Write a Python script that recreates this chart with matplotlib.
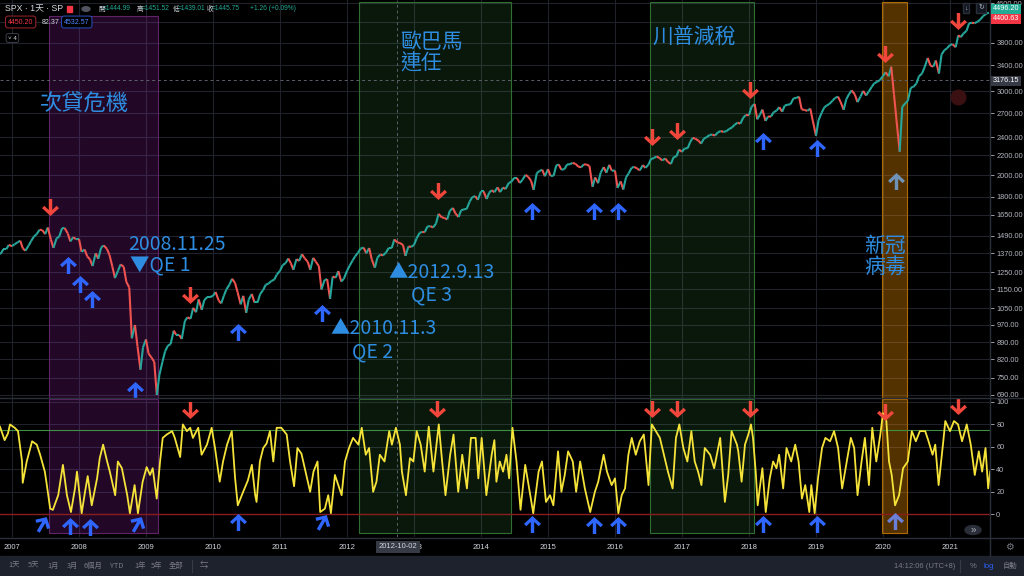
import numpy as np
import pandas as pd
import matplotlib
matplotlib.use('Agg')
import matplotlib.pyplot as plt
import matplotlib.ticker as mticker
from matplotlib.collections import LineCollection
from matplotlib.path import Path
from matplotlib.markers import MarkerStyle
from matplotlib.transforms import Affine2D
from matplotlib.lines import Line2D
from matplotlib.patches import Rectangle, Circle

plt.rcParams['font.family'] = ['Liberation Sans', 'Noto Sans CJK TC', 'DejaVu Sans']
CJK = ['Noto Sans CJK TC', 'DejaVu Sans']

# ---- SPX, 1st and 15th of each month ----
spx_2006 = [1365, 1367, 1397, 1397, 1427]
spx_2007 = [1418, 1431, 1445, 1456, 1403, 1387, 1421, 1453, 1486, 1502, 1536, 1532,
            1503, 1552, 1465, 1406, 1473, 1484, 1547, 1548, 1508, 1451, 1481, 1467]
spx_2008 = [1468, 1380, 1395, 1349, 1330, 1288, 1370, 1334, 1409, 1423, 1400, 1360,
            1284, 1215, 1260, 1298, 1283, 1193, 1161, 908, 968, 873, 780, 869]
spx_2009 = [903, 843, 826, 810, 690, 760, 811, 852, 877, 882, 942, 923,
            923, 905, 987, 1005, 998, 1052, 1030, 1096, 1042, 1093, 1108, 1108]
spx_2010 = [1115, 1136, 1090, 1075, 1115, 1150, 1178, 1211, 1187, 1135, 1070, 1115,
            1027, 1096, 1125, 1080, 1080, 1125, 1146, 1176, 1184, 1198, 1206, 1236]
spx_2011 = [1258, 1293, 1307, 1336, 1306, 1265, 1332, 1320, 1364, 1338, 1315, 1265,
            1340, 1316, 1287, 1150, 1204, 1209, 1099, 1224, 1218, 1257, 1195, 1211]
spx_2012 = [1258, 1289, 1324, 1351, 1374, 1402, 1408, 1370, 1405, 1330, 1278, 1342,
            1362, 1356, 1375, 1405, 1406, 1465, 1444, 1440, 1427, 1353, 1416, 1413]
spx_2013 = [1426, 1472, 1513, 1519, 1518, 1560, 1562, 1552, 1582, 1658, 1630, 1626,
            1614, 1682, 1706, 1661, 1633, 1687, 1695, 1698, 1761, 1798, 1806, 1775]
spx_2014 = [1848, 1848, 1782, 1838, 1859, 1841, 1885, 1842, 1883, 1870, 1924, 1936,
            1973, 1973, 1925, 1955, 2003, 1984, 1946, 1862, 2018, 2039, 2053, 1989]
spx_2015 = [2058, 1992, 1995, 2096, 2105, 2053, 2059, 2106, 2108, 2122, 2111, 2084,
            2077, 2107, 2104, 2091, 1890, 1978, 1923, 2023, 2079, 2023, 2102, 2043]
spx_2016 = [2044, 1880, 1940, 1865, 1978, 2016, 2073, 2081, 2065, 2046, 2099, 2071,
            2103, 2162, 2173, 2190, 2170, 2147, 2168, 2133, 2111, 2180, 2191, 2262]
spx_2017 = [2239, 2275, 2279, 2349, 2396, 2385, 2363, 2329, 2388, 2402, 2430, 2433,
            2423, 2459, 2476, 2464, 2476, 2500, 2519, 2553, 2579, 2564, 2642, 2675]
spx_2018 = [2674, 2786, 2822, 2620, 2678, 2747, 2600, 2656, 2655, 2711, 2734, 2779,
            2718, 2801, 2813, 2818, 2901, 2905, 2924, 2750, 2740, 2730, 2760, 2600]
spx_2019 = [2420, 2610, 2706, 2775, 2803, 2822, 2867, 2905, 2924, 2850, 2744, 2886,
            2964, 3014, 2953, 2847, 2926, 3007, 2940, 2995, 3066, 3120, 3141, 3168]
spx_2020 = [3231, 3289, 3226, 3380, 2954, 2600, 2240, 2783, 2830, 2863, 3055, 3066,
            3115, 3226, 3271, 3372, 3526, 3401, 3380, 3483, 3270, 3585, 3662, 3694]
spx_2021 = [3756, 3768, 3714, 3934, 3901, 3968, 4020, 4170, 4181, 4173, 4204, 4246,
            4319, 4360, 4395]

# ---- oscillator (year, value) ----
osc_a = [(2006.82, 78), (2006.89, 66), (2006.94, 72), (2006.97, 80), (2007.04, 77), (2007.09, 74),
         (2007.15, 47), (2007.16, 28), (2007.22, 47), (2007.30, 65), (2007.37, 62), (2007.42, 53),
         (2007.49, 38), (2007.52, 26), (2007.57, 5), (2007.61, 4), (2007.69, 17), (2007.76, 44),
         (2007.82, 17), (2007.88, 2), (2007.94, 23), (2007.97, 38), (2008.04, 1), (2008.09, 20),
         (2008.13, 34), (2008.19, 8), (2008.27, 32), (2008.31, 50), (2008.36, 62), (2008.42, 47),
         (2008.46, 38), (2008.54, 17), (2008.58, 47), (2008.64, 41), (2008.72, 17), (2008.76, 1),
         (2008.83, 26), (2008.88, 1), (2008.95, 29), (2009.01, 42), (2009.06, 35), (2009.10, 41),
         (2009.16, 14), (2009.21, 47), (2009.25, 68), (2009.31, 71), (2009.39, 74), (2009.43, 68),
         (2009.51, 51), (2009.55, 80), (2009.61, 74), (2009.66, 77), (2009.70, 68), (2009.78, 77),
         (2009.83, 53), (2009.91, 62), (2009.98, 77), (2010.03, 59), (2010.10, 29), (2010.15, 47),
         (2010.21, 62), (2010.28, 74), (2010.33, 32), (2010.37, 8), (2010.45, 20), (2010.52, 30)]
osc_b = [(2010.58, 44), (2010.63, 17), (2010.65, 11), (2010.70, 47), (2010.75, 59), (2010.80, 63),
         (2010.85, 74), (2010.90, 47), (2010.95, 77), (2011.02, 77), (2011.10, 71), (2011.15, 47),
         (2011.21, 25), (2011.26, 59), (2011.32, 54), (2011.37, 41), (2011.45, 20), (2011.50, 38),
         (2011.56, 47), (2011.60, 2), (2011.67, 5), (2011.72, 17), (2011.76, 1), (2011.82, 35),
         (2011.87, 26), (2011.92, 17), (2011.97, 47), (2012.03, 59), (2012.09, 68), (2012.17, 62),
         (2012.22, 77), (2012.28, 53), (2012.33, 59), (2012.39, 20), (2012.44, 29), (2012.49, 53),
         (2012.56, 47), (2012.63, 74), (2012.67, 62), (2012.73, 77), (2012.79, 62), (2012.82, 38),
         (2012.88, 17), (2012.94, 50), (2012.99, 47), (2013.04, 74), (2013.10, 62), (2013.16, 38),
         (2013.22, 78), (2013.29, 38), (2013.37, 80), (2013.42, 47), (2013.47, 17), (2013.54, 53),
         (2013.59, 71), (2013.66, 20), (2013.72, 53), (2013.79, 23), (2013.85, 68), (2013.92, 68),
         (2013.96, 32), (2014.01, 68), (2014.08, 17), (2014.16, 53), (2014.20, 66)]
osc_c = [(2014.23, 29), (2014.28, 47), (2014.33, 38), (2014.38, 53), (2014.42, 32), (2014.47, 77),
         (2014.53, 47), (2014.59, 4), (2014.66, 44), (2014.71, 26), (2014.78, 1), (2014.86, 38),
         (2014.91, 47), (2014.97, 11), (2015.03, 17), (2015.08, 8), (2015.15, 56), (2015.20, 20),
         (2015.25, 35), (2015.30, 56), (2015.37, 47), (2015.42, 20), (2015.48, 47), (2015.55, 23),
         (2015.63, 2), (2015.70, 20), (2015.75, 29), (2015.83, 53), (2015.88, 38), (2015.95, 26),
         (2016.00, 32), (2016.05, 1), (2016.10, 17), (2016.15, 23), (2016.20, 53), (2016.25, 68),
         (2016.31, 53), (2016.37, 65), (2016.43, 71), (2016.50, 26), (2016.55, 80), (2016.61, 74),
         (2016.67, 68), (2016.73, 53), (2016.79, 38), (2016.86, 23), (2016.91, 68), (2016.96, 80),
         (2017.02, 59), (2017.08, 47), (2017.14, 74), (2017.19, 47), (2017.24, 38), (2017.29, 26),
         (2017.34, 59), (2017.42, 53), (2017.48, 41), (2017.57, 68), (2017.64, 11), (2017.69, 35),
         (2017.74, 74), (2017.82, 62)]
osc_d = [(2017.84, 56), (2017.89, 29), (2017.94, 62), (2017.99, 71), (2018.03, 80), (2018.06, 68),
         (2018.10, 38), (2018.13, 8), (2018.16, 23), (2018.20, 41), (2018.25, 2), (2018.31, 32),
         (2018.36, 47), (2018.41, 41), (2018.45, 53), (2018.51, 23), (2018.56, 59), (2018.63, 47),
         (2018.69, 62), (2018.74, 47), (2018.79, 14), (2018.84, 26), (2018.90, 2), (2018.93, 26),
         (2018.98, 1), (2019.03, 32), (2019.09, 59), (2019.14, 68), (2019.21, 65), (2019.27, 74),
         (2019.33, 59), (2019.39, 23), (2019.46, 47), (2019.52, 68), (2019.57, 59), (2019.62, 17),
         (2019.68, 47), (2019.73, 68), (2019.79, 26), (2019.84, 77), (2019.90, 47), (2019.96, 71),
         (2020.00, 90), (2020.05, 83), (2020.09, 47), (2020.13, 35), (2020.18, 8), (2020.24, 17),
         (2020.30, 41), (2020.37, 47), (2020.43, 74), (2020.49, 65), (2020.55, 74), (2020.63, 74),
         (2020.68, 65), (2020.74, 53), (2020.78, 62), (2020.83, 26), (2020.90, 65), (2020.93, 83),
         (2021.00, 74), (2021.06, 83), (2021.12, 80), (2021.18, 65), (2021.25, 80), (2021.31, 62),
         (2021.37, 35), (2021.43, 56), (2021.48, 38), (2021.53, 59), (2021.57, 23), (2021.60, 38)]

# shaded periods (start, end)
zone_start = [2007.55, 2012.18, 2016.52, 2019.99]
zone_end = [2009.18, 2014.45, 2018.07, 2020.36]

# arrows: (year, price) / (year, osc value)
sell_price = [(2007.57, 1715), (2009.66, 1120), (2013.36, 1853), (2016.55, 2407),
              (2016.92, 2478), (2018.01, 3021), (2020.03, 3595), (2021.12, 4218)]
buy_price = [(2007.83, 1296), (2008.01, 1182), (2008.19, 1099), (2008.83, 706), (2010.37, 935),
             (2011.63, 1026), (2014.76, 1682), (2015.69, 1682), (2016.04, 1682),
             (2018.21, 2360), (2019.01, 2281)]
buy_price_covid = [(2020.19, 1944)]
sell_osc = [(2009.66, 92.8), (2013.34, 93.7), (2016.55, 93.7), (2016.92, 93.7),
            (2018.01, 93.7), (2020.03, 91), (2021.12, 96.4)]
buy_osc = [(2007.87, -10.4), (2008.16, -11.3), (2010.37, -6.9), (2014.76, -8.5),
           (2015.69, -9.4), (2016.04, -9.4), (2018.21, -8.5), (2019.01, -8.5)]
buy_osc_tilt = [(2007.45, -8.5), (2008.86, -8.5), (2011.63, -6.9)]
buy_osc_covid = [(2020.18, -5.9)]

price_ticks = [4600, 4200, 3800, 3400, 3000, 2700, 2400, 2200, 2000, 1800, 1650, 1490,
               1370, 1250, 1150, 1050, 970, 890, 820, 750, 690]
hidden_ticks = [4200]   # covered by the last-price badges
osc_ticks = [0, 20, 40, 60, 80, 100]
years = list(range(2007, 2022))

# ---------------------------------------------------------------
W, H = 1024, 576
def X(px):
    return px / W
def Y(py):
    return 1 - py / H

BG = '#000000'
GRID = '#1f222b'
SEP = '#2a2e39'
TXT = '#b2b5be'
NOTE = '#2e8de0'
RED = '#f0463c'
BLUE = '#2f66ff'

fig = plt.figure(figsize=(10.24, 5.76), dpi=100, facecolor=BG)
ax_p = fig.add_axes([0, Y(398), 990 / W, 398 / H], facecolor=BG)
ax_o = fig.add_axes([0, Y(537), 990 / W, 139 / H], facecolor=BG)

x0, x1 = 2006.821, 2006.821 + 990 / 67
for ax in (ax_p, ax_o):
    ax.set_xlim(x0, x1)
    for s in ax.spines.values():
        s.set_visible(False)
    ax.set_xticks(years)
    ax.grid(True, color=GRID, lw=0.8)
    ax.set_axisbelow(True)
    ax.yaxis.tick_right()
    ax.tick_params(axis='y', colors=TXT, labelsize=5.3, length=3, width=0.6, pad=1.5)
    ax.tick_params(axis='x', length=0)

# price pane
ax_p.set_yscale('log')
ax_p.set_ylim(680, 4668)
ax_p.set_yticks(price_ticks)
ax_p.yaxis.set_minor_locator(mticker.NullLocator())
ax_p.yaxis.set_major_formatter(mticker.FuncFormatter(
    lambda v, p: '' if round(v) in hidden_ticks else '%.2f' % v))
ax_p.set_xticklabels([])

dates = pd.date_range('2006-10-15', '2021-08-01', freq='SMS')
spx = (spx_2006 + spx_2007 + spx_2008 + spx_2009 + spx_2010 + spx_2011 + spx_2012 +
       spx_2013 + spx_2014 + spx_2015 + spx_2016 + spx_2017 + spx_2018 + spx_2019 +
       spx_2020 + spx_2021)
n = min(len(dates), len(spx))
t = (dates.year + (dates.dayofyear - 1) / 365.25)[:n].to_numpy()
p = np.array(spx[:n], dtype=float)
pts = np.column_stack([t, p])
segs = np.stack([pts[:-1], pts[1:]], axis=1)
cols = np.where(np.diff(p) >= 0, '#26a69a', '#ef5350')
ax_p.add_collection(LineCollection(segs, colors=cols, linewidths=1.5, zorder=3))

zone_face = ['#9c27b0', '#4caf50', '#4caf50', '#ff9800']
zone_alpha = [0.22, 0.14, 0.14, 0.33]
zone_edge = ['#5e2466', '#2f6e30', '#2f6e30', '#b06a00']
zone_top = [0.96, 0.995, 0.995, 0.995]
for i in range(len(zone_start)):
    ax_p.axvspan(zone_start[i], zone_end[i], ymin=0, ymax=zone_top[i],
                 facecolor=zone_face[i], alpha=zone_alpha[i], lw=0, zorder=1)
    ax_p.axvspan(zone_start[i], zone_end[i], ymin=0, ymax=zone_top[i],
                 facecolor='none', edgecolor=zone_edge[i], lw=0.8, zorder=1)
    ax_o.axvspan(zone_start[i], zone_end[i], ymin=0.03, ymax=0.995,
                 facecolor=zone_face[i], alpha=zone_alpha[i], lw=0, zorder=1)
    ax_o.axvspan(zone_start[i], zone_end[i], ymin=0.03, ymax=0.995,
                 facecolor='none', edgecolor=zone_edge[i], lw=0.8, zorder=1)

# crosshair lines
ax_p.axhline(3176.15, color='#5d606b', lw=0.7, ls=(0, (3, 3)), zorder=2)
for ax in (ax_p, ax_o):
    ax.axvline(2012.75, color='#5d606b', lw=0.7, ls=(0, (3, 3)), zorder=2)

ax_p.scatter([2021.12], [2919], s=110, color='#3a1013', zorder=2)

# oscillator pane
osc = osc_a + osc_b + osc_c + osc_d
ax_o.set_ylim(-20.2, 103.5)
ax_o.set_yticks(osc_ticks)
ax_o.yaxis.set_major_formatter(mticker.FuncFormatter(lambda v, p: '%d' % v))
ax_o.axhline(75, color='#3f8f43', lw=0.8, zorder=2)
ax_o.axhline(0, color='#8a1c1c', lw=1.0, zorder=2)
ax_o.plot([a for a, b in osc], [b for a, b in osc], color='#f5e33a', lw=1.3, zorder=3)
ax_o.set_xticklabels([str(y) for y in years])
ax_o.tick_params(axis='x', colors='#d1d4dc', labelsize=5.5, pad=5)

# arrow markers
dv = [(-0.2, 1.0), (0.2, 1.0), (0.2, -0.3), (0.72, 0.2), (1.0, -0.08), (0.0, -1.0),
      (-1.0, -0.08), (-0.72, 0.2), (-0.2, -0.3), (-0.2, 1.0)]
down = Path(dv, closed=True)
up = Path([(a, -b) for a, b in dv], closed=True)
up_tilt = MarkerStyle(up, transform=Affine2D().rotate_deg(-30))

def arrows(ax, pts, marker, color):
    ax.scatter([a for a, b in pts], [b for a, b in pts], marker=marker, s=150,
               color=color, linewidths=0, zorder=5)

arrows(ax_p, sell_price, down, RED)
arrows(ax_p, buy_price, up, BLUE)
arrows(ax_p, buy_price_covid, up, '#6f93b8')
arrows(ax_o, sell_osc, down, RED)
arrows(ax_o, buy_osc, up, BLUE)
arrows(ax_o, buy_osc_tilt, up_tilt, BLUE)
arrows(ax_o, buy_osc_covid, up, '#6a80d8')

# annotations
notes = [(40, 104, '次貸危機', 16), (128, 244, '2008.11.25', 14), (130, 266, '▼QE 1', 14),
         (330, 329, '▲2010.11.3', 14), (352, 352, 'QE 2', 14),
         (388, 272, '▲2012.9.13', 14), (411, 295, 'QE 3', 14),
         (400, 42, '歐巴馬', 15), (400, 64, '連任', 15), (652, 37, '川普減稅', 15),
         (864, 246, '新冠', 15), (864, 268, '病毒', 15)]
for px, py, s, fs in notes:
    fig.text(X(px), Y(py), s, color=NOTE, fontsize=fs, family=CJK, ha='left', va='center', zorder=6)

# pane separators
for py in (398, 538):
    fig.add_artist(Line2D([0, 1], [Y(py), Y(py)], color=SEP, lw=1))
fig.add_artist(Line2D([X(990), X(990)], [Y(556), 1], color=SEP, lw=1))

# header
fig.text(X(5), Y(9), 'SPX · 1天 · SP', color='#d1d4dc', fontsize=6.3, va='center')
fig.add_artist(Rectangle((X(67), Y(12)), 5 / W, 6 / H, color='#f23645'))
fig.add_artist(Circle((X(86), Y(9)), 4 / W, color='#50535e'))
ohlc = [(98, '開', '=1444.99'), (137, '高', '=1451.52'), (173, '低', '=1439.01'), (207, '收', '=1445.75')]
for px, k, v in ohlc:
    fig.text(X(px), Y(9), k, color='#d1d4dc', fontsize=4.8, family=CJK, va='center')
    fig.text(X(px + 5), Y(9), v, color='#22ab94', fontsize=4.8, va='center')
fig.text(X(250), Y(9), '+1.26 (+0.09%)', color='#22ab94', fontsize=4.8, va='center')
fig.text(X(8), Y(22), '4450.20', color='#f23645', fontsize=5, va='center',
         bbox=dict(facecolor=BG, edgecolor='#a0262e', boxstyle='round,pad=0.35', lw=0.7))
fig.text(X(42), Y(22), '82.37', color='#d1d4dc', fontsize=5, va='center')
fig.text(X(64), Y(22), '4532.57', color='#4d86ff', fontsize=5, va='center',
         bbox=dict(facecolor=BG, edgecolor='#2450c0', boxstyle='round,pad=0.35', lw=0.7))
fig.text(X(8), Y(38), '˅ 4', color='#d1d4dc', fontsize=4.5, va='center',
         bbox=dict(facecolor=BG, edgecolor='#434651', boxstyle='round,pad=0.3', lw=0.6))

# top-right buttons
fig.text(X(966), Y(8), '↓', color='#b2b5be', fontsize=5, ha='center', va='center',
         bbox=dict(facecolor='#131722', edgecolor='#2a2e39', pad=1.2))
fig.text(X(981), Y(8), '↻', color='#b2b5be', fontsize=5, ha='center', va='center',
         bbox=dict(facecolor='#131722', edgecolor='#2a2e39', pad=1.2))

# price axis badges
badges = [(9, '4496.20', '#22ab94'), (19, '4400.63', '#f23645'), (81, '3176.15', '#363a45')]
for py, s, c in badges:
    fig.text(X(993), Y(py), s, color='white', fontsize=5.2, va='center', zorder=10,
             bbox=dict(facecolor=c, edgecolor='none', pad=1.3))

fig.text(X(398), Y(547), '2012-10-02', color='#d1d4dc', fontsize=5.5, ha='center', va='center',
         zorder=10, bbox=dict(facecolor='#363a45', edgecolor='none', pad=1.6))

# "scroll to realtime" button and gear
fig.add_artist(Circle((X(973), Y(530)), 8 / W, color='#2a2e39'))
fig.text(X(973), Y(530), '»', color='#b2b5be', fontsize=7, ha='center', va='center')
fig.text(X(1009), Y(547), '⚙', color='#787b86', fontsize=7, ha='center', va='center')

# bottom toolbar
fig.add_artist(Rectangle((0, 0), 1, 20 / H, color='#1e222d'))
tb = [(8, '1天'), (28, '5天'), (47, '1月'), (67, '3月'), (84, '6個月'), (110, 'YTD'),
      (134, '1年'), (151, '5年'), (169, '全部')]
for px, s in tb:
    fig.text(X(px), Y(566), s, color='#787b86', fontsize=5.3, family=CJK, va='center')
fig.add_artist(Line2D([X(192), X(192)], [Y(572), Y(560)], color='#363a45', lw=0.8))
fig.add_artist(Line2D([X(960), X(960)], [Y(572), Y(560)], color='#363a45', lw=0.8))
fig.text(X(204), Y(566), '⇆', color='#787b86', fontsize=6, ha='center', va='center')
fig.text(X(894), Y(566), '14:12:06 (UTC+8)', color='#787b86', fontsize=5.5, va='center')
fig.text(X(970), Y(566), '%', color='#787b86', fontsize=5.5, va='center')
fig.text(X(983), Y(566), 'log', color='#2962ff', fontsize=5.5, va='center')
fig.text(X(1003), Y(566), '自動', color='#787b86', fontsize=5.3, family=CJK, va='center')

fig.savefig('out.png', dpi=100, facecolor=BG)
